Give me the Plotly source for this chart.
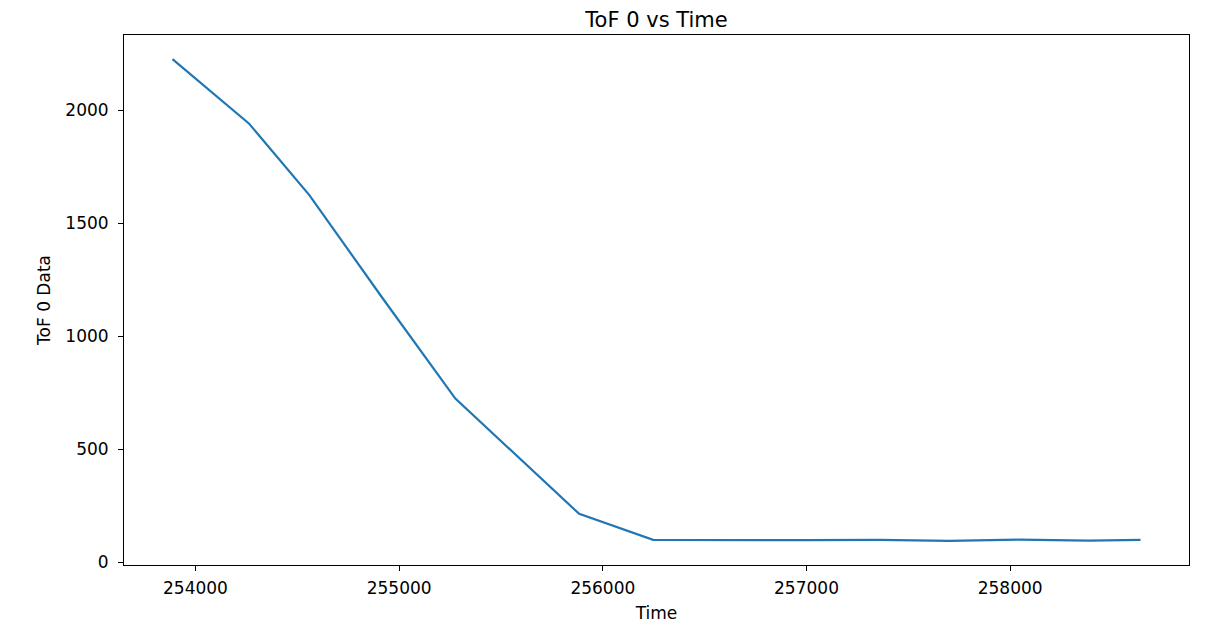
import plotly.graph_objects as go

# values
time = [253887, 254262, 254559, 254917, 255276, 255580, 255884, 256247,
        256600, 257000, 257357, 257700, 258043, 258387, 258640]
tof0 = [2225, 1941, 1624, 1170, 724, 468, 214, 99,
        97, 98, 99, 95, 100, 96, 99]

title = 'ToF 0 vs Time'
xlabel = 'Time'
ylabel = 'ToF 0 Data'

font = 'DejaVu Sans'
tick_size = 17
label_size = 17

fig = go.Figure()

fig.add_trace(
    go.Scatter(
        x=time,
        y=tof0,
        mode='lines',
        line=dict(color='#1f77b4', width=2.2),
        showlegend=False
    )
)

axis_style = dict(
    showline=True,
    linecolor='black',
    linewidth=1,
    mirror=True,
    ticks='outside',
    ticklen=5,
    tickcolor='black',
    showgrid=False,
    zeroline=False,
    automargin=False,
    tickfont=dict(family=font, size=tick_size, color='black'),
)

fig.update_xaxes(
    range=[253649, 258878],
    tickvals=[254000, 255000, 256000, 257000, 258000],
    tickformat='d',
    ticklabelstandoff=3,
    title=dict(text=xlabel, font=dict(family=font, size=label_size, color='black'), standoff=9),
    **axis_style
)
fig.update_yaxes(
    range=[-12, 2332],
    tickvals=[0, 500, 1000, 1500, 2000],
    tickformat='d',
    ticklabelstandoff=6,
    title=dict(text=ylabel, font=dict(family=font, size=label_size, color='black'), standoff=10),
    **axis_style
)

# page body adds an 8px margin, so the figure is a little smaller than the window
fig.update_layout(
    width=1192,
    height=618,
    paper_bgcolor='white',
    plot_bgcolor='white',
    margin=dict(l=116, r=11, t=27, b=61, autoexpand=False),
    title=dict(text=title, x=0.5, xref='paper', xanchor='center',
               y=1 - 12 / 618, yref='container', yanchor='middle',
               font=dict(family=font, size=21, color='black')),
)

fig.write_html("out.html")
